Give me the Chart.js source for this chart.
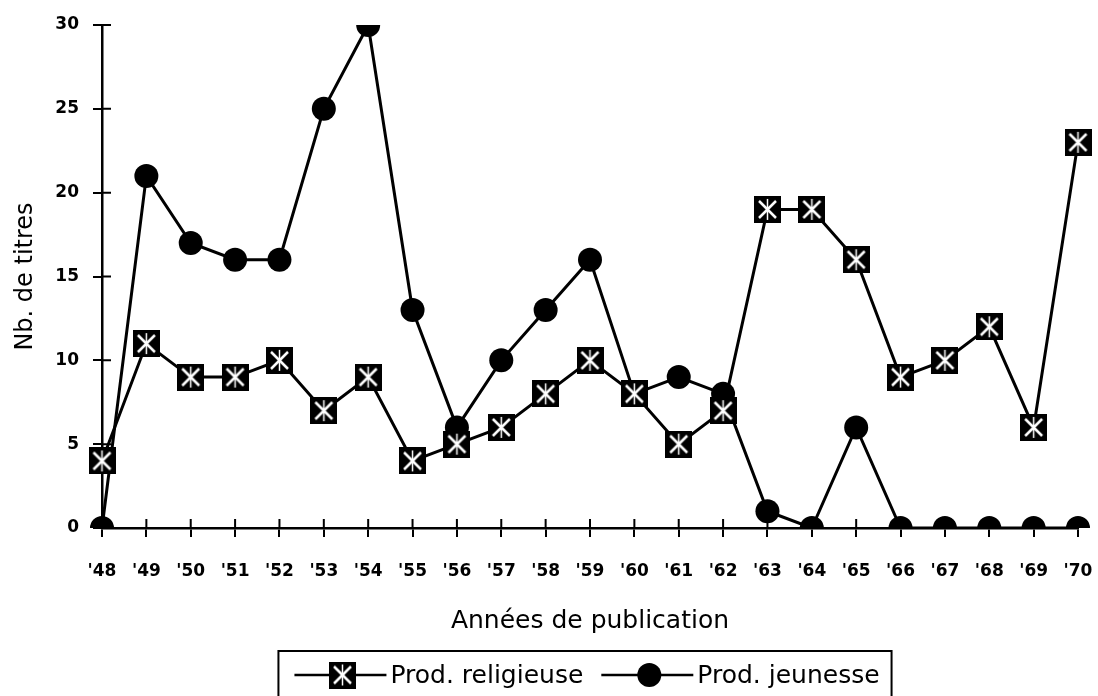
<!DOCTYPE html>
<html lang="fr">
<head>
<meta charset="utf-8">
<title>Production religieuse et jeunesse</title>
<script src="https://cdn.jsdelivr.net/npm/chart.js@4.4.1/dist/chart.umd.min.js"></script>
<style>
  html, body { margin: 0; padding: 0; background: #fff; }
</style>
</head>
<body>
<canvas id="graphique" width="1098" height="696"></canvas>
<script>
// Données
const annees = ["'48", "'49", "'50", "'51", "'52", "'53", "'54", "'55", "'56", "'57", "'58", "'59",
                "'60", "'61", "'62", "'63", "'64", "'65", "'66", "'67", "'68", "'69", "'70"];
const prodReligieuse = [4, 11, 9, 9, 10, 7, 9, 4, 5, 6, 8, 10, 8, 5, 7, 19, 19, 16, 9, 10, 12, 6, 23];
const prodJeunesse   = [0, 21, 17, 16, 16, 25, 30, 13, 6, 10, 13, 16, 8, 9, 8, 1, 0, 6, 0, 0, 0, 0, 0];
const yMin = 0, yMax = 30, yPas = 5;

Chart.defaults.font.family = '"DejaVu Sans", Verdana, sans-serif';
Chart.defaults.color = '#000';

// Marqueur carré noir avec une croix blanche
function carreCroix(taille) {
    const c = document.createElement('canvas');
    c.width = taille;
    c.height = taille;
    const g = c.getContext('2d');
    g.fillStyle = '#000';
    g.fillRect(0, 0, taille, taille);
    g.strokeStyle = '#fff';
    g.lineWidth = 2.5;
    const m = 5;
    g.beginPath();
    g.moveTo(m, m); g.lineTo(taille - m, taille - m);
    g.moveTo(taille - m, m); g.lineTo(m, taille - m);
    g.stroke();
    g.lineWidth = 1.5;
    g.beginPath();
    g.moveTo(taille / 2, 3); g.lineTo(taille / 2, taille - 3);
    g.stroke();
    return c;
}
const marqueurReligieuse = carreCroix(27);

// Les graduations traversent les axes : on ajoute la partie intérieure
const ticksCroises = {
    id: 'ticksCroises',
    beforeDatasetsDraw(chart) {
        const ctx = chart.ctx;
        const x = chart.scales.x, y = chart.scales.y;
        const L = 9;
        ctx.save();
        ctx.strokeStyle = '#000';
        ctx.lineWidth = 2;
        ctx.beginPath();
        x.ticks.forEach((t, i) => {
            const px = x.getPixelForTick(i);
            ctx.moveTo(px, x.top);
            ctx.lineTo(px, x.top - L);
        });
        y.ticks.forEach((t, i) => {
            const py = y.getPixelForTick(i);
            ctx.moveTo(y.right, py);
            ctx.lineTo(y.right + L, py);
        });
        ctx.stroke();
        ctx.restore();
    }
};

// Légende encadrée, style « —X—Prod. religieuse »
const legendeEncadree = {
    id: 'legendeEncadree',
    afterDraw(chart) {
        const ctx = chart.ctx;
        const longTrait = 92, posMarq = 48, ecartTexte = 4, ecartItems = 18;
        const padG = 16, padD = 12;
        ctx.save();
        ctx.font = '25px "DejaVu Sans", Verdana, sans-serif';
        ctx.textBaseline = 'middle';
        ctx.fillStyle = '#000';
        ctx.strokeStyle = '#000';
        const items = chart.data.datasets.map(ds => ({
            ds: ds,
            w: longTrait + ecartTexte + ctx.measureText(ds.label).width
        }));
        const total = padG + padD + items.reduce((s, it) => s + it.w, 0) + ecartItems * (items.length - 1);
        const cx = (chart.chartArea.left + chart.chartArea.right) / 2 - 5;
        const x0 = cx - total / 2;
        const haut = 651, yMil = 675;
        ctx.lineWidth = 2;
        ctx.strokeRect(x0, haut, total, 80);
        let x = x0 + padG;
        items.forEach(it => {
            ctx.lineWidth = 2.5;
            ctx.beginPath();
            ctx.moveTo(x, yMil);
            ctx.lineTo(x + longTrait, yMil);
            ctx.stroke();
            const ps = it.ds.pointStyle;
            if (ps instanceof HTMLCanvasElement) {
                ctx.drawImage(ps, x + posMarq - ps.width / 2, yMil - ps.height / 2);
            } else {
                ctx.beginPath();
                ctx.arc(x + posMarq, yMil, it.ds.pointRadius, 0, Math.PI * 2);
                ctx.fill();
            }
            ctx.fillText(it.ds.label, x + longTrait + ecartTexte, yMil + 1);
            x += it.w + ecartItems;
        });
        ctx.restore();
    }
};

new Chart(document.getElementById('graphique'), {
    type: 'line',
    data: {
        labels: annees,
        datasets: [
            {
                label: 'Prod. religieuse',
                data: prodReligieuse,
                borderColor: '#000',
                backgroundColor: '#000',
                borderWidth: 3,
                pointStyle: marqueurReligieuse,
                pointRadius: 13,
                tension: 0
            },
            {
                label: 'Prod. jeunesse',
                data: prodJeunesse,
                borderColor: '#000',
                backgroundColor: '#000',
                borderWidth: 3,
                pointStyle: 'circle',
                pointRadius: 12,
                pointBorderWidth: 0,
                tension: 0
            }
        ]
    },
    options: {
        responsive: false,
        animation: false,
        layout: { padding: { top: 25, right: 20, left: 0, bottom: 0 } },
        plugins: {
            legend: { display: false },
            tooltip: { enabled: false }
        },
        scales: {
            x: {
                offset: false,
                border: { display: true, color: '#000', width: 2.5 },
                grid: { drawOnChartArea: false, drawTicks: true, tickLength: 9, color: '#000', lineWidth: 2 },
                ticks: {
                    autoSkip: false, maxRotation: 0, padding: 24,
                    font: { size: 17, weight: 'bold' }
                },
                title: {
                    display: true,
                    text: 'Années de publication',
                    font: { size: 25 },
                    padding: { top: 0, bottom: 60 }
                },
                afterFit: s => {
                    s.height = 168;
                    s.paddingLeft = 0;
                    s.paddingRight = 0;
                }
            },
            y: {
                min: yMin,
                max: yMax,
                border: { display: true, color: '#000', width: 2.5 },
                grid: { drawOnChartArea: false, drawTicks: true, tickLength: 9, color: '#000', lineWidth: 2 },
                ticks: {
                    stepSize: yPas, padding: 14,
                    font: { size: 17, weight: 'bold' }
                },
                title: {
                    display: true,
                    text: 'Nb. de titres',
                    font: { size: 24 },
                    padding: { top: 11, bottom: 0 }
                },
                afterFit: s => { s.width = 102; }
            }
        }
    },
    plugins: [ticksCroises, legendeEncadree]
});
</script>
</body>
</html>
